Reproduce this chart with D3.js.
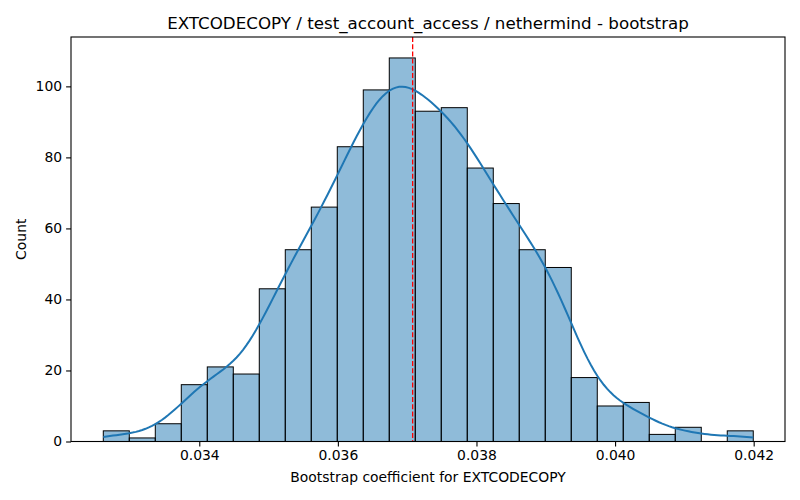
<!DOCTYPE html>
<html>
<head>
<meta charset="utf-8">
<script src="https://cdn.jsdelivr.net/npm/d3@7"></script>
<style>
  body { margin: 0; background: #fff; }
  text { font-family: "DejaVu Sans", sans-serif; fill: #000; }
</style>
</head>
<body>
<svg id="chart" width="800" height="500"></svg>
<script>
// histogram data
const binStart = 0.032615;
const binWidth = 0.00037516;
const counts = [3, 1, 5, 16, 21, 19, 43, 54, 66, 83, 99, 108, 93, 94, 77, 67, 54, 49, 18, 10, 11, 2, 4, 0, 3];
const xTicks = [0.034, 0.036, 0.038, 0.040, 0.042];
const yTicks = [0, 20, 40, 60, 80, 100];
const meanValue = 0.037079;

const svg = d3.select('#chart');
const m = { left: 71, right: 785, top: 37, bottom: 441.5 };

const x = d3.scaleLinear().domain([0.032149, 0.042452]).range([m.left, m.right]);
const y = d3.scaleLinear().domain([0, 113.9]).range([m.bottom, m.top]);

let bins = counts.map(function (c, i) {
  return { x0: binStart + i * binWidth, x1: binStart + (i + 1) * binWidth, n: c };
});

// bars
svg.append('g')
  .selectAll('rect')
  .data(bins.filter(function (b) { return b.n > 0; }))
  .join('rect')
  .attr('x', function (b) { return x(b.x0); })
  .attr('y', function (b) { return y(b.n); })
  .attr('width', function (b) { return x(b.x1) - x(b.x0); })
  .attr('height', function (b) { return y(0) - y(b.n); })
  .attr('fill', 'rgba(31,119,180,0.5)')
  .attr('stroke', '#000')
  .attr('stroke-width', 1);

// kde from the binned counts (gaussian, scott bandwidth, binning correction)
let total = d3.sum(counts);
let centers = bins.map(function (b) { return (b.x0 + b.x1) / 2; });
let mean = d3.sum(bins, function (b, i) { return b.n * centers[i]; }) / total;
let variance = d3.sum(bins, function (b, i) { return b.n * Math.pow(centers[i] - mean, 2); }) / (total - 1);
variance = variance - binWidth * binWidth / 12;
let bw = Math.sqrt(variance) * Math.pow(total, -0.2);

let lo = binStart, hi = binStart + counts.length * binWidth;
let grid = d3.range(201).map(function (k) { return lo + (hi - lo) * k / 200; });
let kde = grid.map(function (g) {
  let d = 0;
  bins.forEach(function (b, i) {
    let u = (g - centers[i]) / bw;
    d += b.n * Math.exp(-0.5 * u * u);
  });
  d = d / (total * bw * Math.sqrt(2 * Math.PI));
  return [g, d * total * binWidth];
});

svg.append('path')
  .datum(kde)
  .attr('d', d3.line().x(function (p) { return x(p[0]); }).y(function (p) { return y(p[1]); }))
  .attr('fill', 'none')
  .attr('stroke', '#1f77b4')
  .attr('stroke-width', 2);

// mean line
svg.append('line')
  .attr('x1', x(meanValue)).attr('x2', x(meanValue))
  .attr('y1', m.top).attr('y2', m.bottom)
  .attr('stroke', 'red')
  .attr('stroke-width', 1.3)
  .attr('stroke-dasharray', '5,2.2');

// axes
let xAxis = svg.append('g')
  .attr('transform', 'translate(0,' + m.bottom + ')')
  .call(d3.axisBottom(x).tickValues(xTicks).tickFormat(d3.format('.3f')).tickSize(4.9).tickPadding(4));
let yAxis = svg.append('g')
  .attr('transform', 'translate(' + m.left + ',0)')
  .call(d3.axisLeft(y).tickValues(yTicks).tickSize(4.9).tickPadding(4));

[xAxis, yAxis].forEach(function (a) {
  a.select('.domain').remove();
  a.selectAll('.tick line').attr('stroke', '#000').attr('stroke-width', 1.1);
  a.selectAll('.tick text').style('font-size', '13.9px').style('font-family', '"DejaVu Sans", sans-serif');
});

// frame
svg.append('rect')
  .attr('x', m.left).attr('y', m.top)
  .attr('width', m.right - m.left).attr('height', m.bottom - m.top)
  .attr('fill', 'none')
  .attr('stroke', '#000')
  .attr('stroke-width', 1.1);

// labels
svg.append('text')
  .attr('x', (m.left + m.right) / 2).attr('y', 29)
  .attr('text-anchor', 'middle')
  .style('font-size', '16.7px')
  .text('EXTCODECOPY / test_account_access / nethermind - bootstrap');

svg.append('text')
  .attr('x', (m.left + m.right) / 2).attr('y', 482)
  .attr('text-anchor', 'middle')
  .style('font-size', '13.9px')
  .text('Bootstrap coefficient for EXTCODECOPY');

svg.append('text')
  .attr('transform', 'translate(26,' + (m.top + m.bottom) / 2 + ') rotate(-90)')
  .attr('text-anchor', 'middle')
  .style('font-size', '13.9px')
  .text('Count');
</script>
</body>
</html>
